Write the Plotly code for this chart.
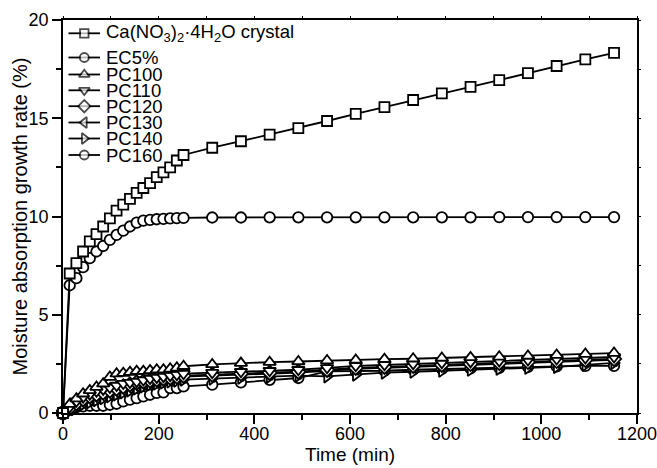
import plotly.graph_objects as go

# ---------------- data ----------------
time_min = [0, 14, 28, 42, 56, 70, 84, 98, 112, 126, 140, 154, 168, 182, 196, 210, 224, 238, 252,
            312, 372, 432, 492, 552, 612, 672, 732, 792, 852, 912, 972, 1032, 1092, 1152]

crystal = [0, 7.1, 7.63, 8.22, 8.73, 9.1, 9.49, 9.9, 10.3, 10.6, 10.9, 11.2, 11.45, 11.7, 12.0, 12.25, 12.5, 12.85, 13.13,
           13.5, 13.83, 14.17, 14.5, 14.86, 15.22, 15.57, 15.93, 16.27, 16.6, 16.94, 17.3, 17.66, 18.0, 18.33]

ec5 = [0, 6.5, 6.86, 7.42, 7.88, 8.22, 8.5, 8.81, 9.06, 9.28, 9.49, 9.69, 9.79, 9.83, 9.86, 9.88, 9.9, 9.92, 9.93,
       9.95, 9.95, 9.96, 9.96, 9.96, 9.96, 9.96, 9.96, 9.96, 9.96, 9.97, 9.97, 9.97, 9.97, 9.97]

pc100 = [0, 0.45, 0.73, 0.98, 1.15, 1.32, 1.49, 1.83, 2.0, 2.03, 2.08, 2.13, 2.13, 2.17, 2.2, 2.2, 2.25, 2.3, 2.38,
         2.47, 2.54, 2.59, 2.62, 2.67, 2.7, 2.74, 2.76, 2.8, 2.83, 2.86, 2.9, 2.95, 3.0, 3.05]

pc110 = [0, 0.3, 0.6, 0.8, 0.95, 1.1, 1.2, 1.3, 1.4, 1.5, 1.55, 1.6, 1.68, 1.75, 1.8, 1.85, 1.9, 1.95, 2.0,
         2.05, 2.1, 2.15, 2.2, 2.3, 2.4, 2.45, 2.5, 2.55, 2.6, 2.65, 2.7, 2.75, 2.8, 2.85]

pc120 = [0, 0.25, 0.5, 0.7, 0.85, 0.95, 1.05, 1.15, 1.25, 1.35, 1.45, 1.55, 1.6, 1.65, 1.7, 1.75, 1.8, 1.85, 1.9,
         1.95, 2.0, 2.05, 2.1, 2.2, 2.3, 2.35, 2.4, 2.45, 2.5, 2.55, 2.6, 2.65, 2.7, 2.75]

pc130 = [0, 0.2, 0.4, 0.55, 0.7, 0.8, 0.9, 1.0, 1.1, 1.2, 1.3, 1.4, 1.5, 1.55, 1.6, 1.7, 1.75, 1.8, 1.85,
         1.9, 1.95, 2.0, 2.05, 2.15, 2.25, 2.3, 2.35, 2.4, 2.45, 2.5, 2.55, 2.6, 2.65, 2.7]

pc140 = [0, 0.15, 0.3, 0.45, 0.55, 0.65, 0.75, 0.85, 0.95, 1.05, 1.15, 1.25, 1.35, 1.45, 1.5, 1.55, 1.6, 1.65, 1.7,
         1.75, 1.8, 1.85, 1.9, 1.86, 1.95, 2.05, 2.1, 2.15, 2.2, 2.25, 2.3, 2.35, 2.45, 2.55]

pc160 = [0, 0.17, 0.3, 0.34, 0.37, 0.37, 0.37, 0.42, 0.47, 0.59, 0.68, 0.76, 0.85, 0.93, 1.02, 1.05, 1.27, 1.27, 1.35,
         1.44, 1.56, 1.69, 1.78, 2.12, 2.12, 2.15, 2.2, 2.24, 2.27, 2.29, 2.34, 2.37, 2.4, 2.4]

series_names = ["Ca(NO<sub>3</sub>)<sub>2</sub>·4H<sub>2</sub>O crystal", "EC5%", "PC100", "PC110",
                "PC120", "PC130", "PC140", "PC160"]
series_values = [crystal, ec5, pc100, pc110, pc120, pc130, pc140, pc160]
series_symbols = ["square", "circle", "triangle-up", "triangle-down", "diamond",
                  "triangle-left", "triangle-right", "circle"]

x_ticks = [0, 200, 400, 600, 800, 1000, 1200]
y_ticks = [0, 5, 10, 15, 20]
x_title = "Time (min)"
y_title = "Moisture absorption growth rate (%)"

FONT = "Liberation Sans, Arial, sans-serif"
LW = 1.8

fig = go.Figure()

sizes = {"square": 10, "circle": 10.5, "triangle-up": 11, "triangle-down": 11, "diamond": 11,
         "triangle-left": 11, "triangle-right": 11}

# data traces (drawn bottom group first)
for name, vals, sym in reversed(list(zip(series_names, series_values, series_symbols))):
    fig.add_trace(go.Scatter(
        x=time_min, y=vals, mode="lines+markers", name=name,
        line=dict(color="black", width=LW),
        marker=dict(symbol=sym, size=sizes[sym], color="white",
                    line=dict(color="black", width=LW)),
        cliponaxis=False, showlegend=False))

# invisible trace for the mirrored tick axes
fig.add_trace(go.Scatter(x=[None], y=[None], xaxis="x2", yaxis="y2", showlegend=False))

# manual legend (pixel-based overlay axis)
leg_y = [33.3, 57.5, 74.5, 90.3, 106.2, 122.5, 138.5, 155]
leg_x0, leg_x1, leg_xm, leg_tx = 68.5, 100, 84.3, 104
fig.add_trace(go.Scatter(
    x=[leg_xm] * len(leg_y), y=leg_y, mode="markers", xaxis="x3", yaxis="y3",
    marker=dict(symbol=series_symbols, size=[8.5, 9, 9.5, 9.5, 9.5, 9.5, 9.5, 9], color="white",
                line=dict(color="black", width=LW)),
    showlegend=False, hoverinfo="skip"))
for yy, name in zip(leg_y, series_names):
    fig.add_shape(type="line", xref="x3", yref="y3", x0=leg_x0, x1=leg_x1, y0=yy, y1=yy,
                  line=dict(color="black", width=LW), layer="below")
    fig.add_annotation(x=leg_tx, y=yy, xref="x3", yref="y3", text=name, showarrow=False,
                       xanchor="left", yanchor="middle", font=dict(size=18.5, family=FONT, color="black"))

# axis titles
fig.add_annotation(x=0.5, y=-0.105, xref="paper", yref="paper", text=x_title, showarrow=False,
                   xanchor="center", yanchor="middle", font=dict(size=19, family=FONT, color="black"))
fig.add_annotation(x=-0.075, y=0.5, xref="paper", yref="paper", text=y_title, showarrow=False,
                   textangle=-90, xanchor="center", yanchor="middle",
                   font=dict(size=20, family=FONT, color="black"))

fig.update_layout(
    width=657, height=468,
    margin=dict(l=63, r=20, t=20, b=55),
    plot_bgcolor="white", paper_bgcolor="white",
    font=dict(family=FONT, color="black"),
    showlegend=False,
    xaxis=dict(range=[0, 1200], tickvals=x_ticks, ticks="outside", ticklen=9, tickwidth=LW,
               tickcolor="black", showline=True, linewidth=LW, linecolor="black", mirror=True,
               showgrid=False, zeroline=False, tickfont=dict(size=18), ticklabeloverflow="allow",
               automargin=False, ticklabelstandoff=-6,
               minor=dict(dtick=100, tick0=0, ticks="outside", ticklen=5, tickwidth=LW, tickcolor="black")),
    yaxis=dict(range=[0, 20], tickvals=y_ticks, ticks="outside", ticklen=9, tickwidth=LW,
               tickcolor="black", showline=True, linewidth=LW, linecolor="black", mirror=True,
               showgrid=False, zeroline=False, tickfont=dict(size=18), ticklabeloverflow="allow",
               automargin=False,
               minor=dict(dtick=2.5, tick0=0, ticks="outside", ticklen=5, tickwidth=LW, tickcolor="black")),
    xaxis2=dict(overlaying="x", side="top", range=[0, 1200], dtick=100, tick0=0, ticks="outside",
                ticklen=3, tickwidth=1.2, tickcolor="black", showticklabels=False, showline=False,
                showgrid=False, zeroline=False, automargin=False),
    yaxis2=dict(overlaying="y", side="right", range=[0, 20], dtick=2.5, tick0=0, ticks="outside",
                ticklen=3, tickwidth=1.2, tickcolor="black", showticklabels=False, showline=False,
                showgrid=False, zeroline=False, automargin=False),
    xaxis3=dict(overlaying="x", range=[63, 637], visible=False),
    yaxis3=dict(overlaying="y", range=[413, 20], visible=False),
)

fig.write_html("out.html")
